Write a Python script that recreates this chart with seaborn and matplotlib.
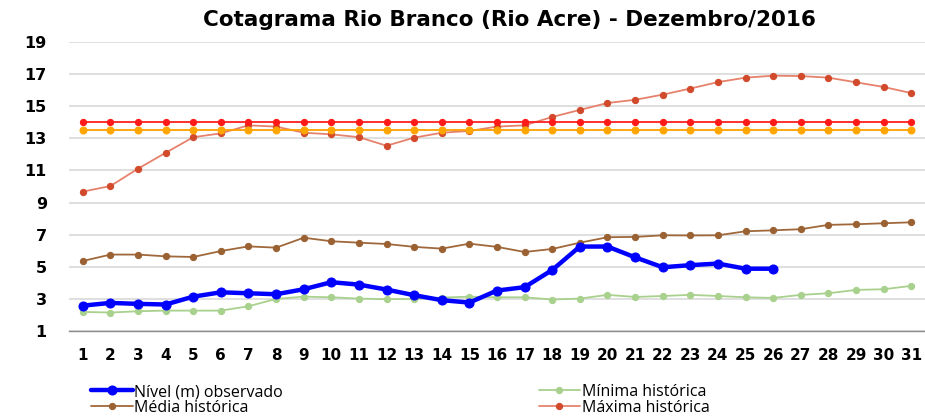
import numpy as np
import pandas as pd
import seaborn as sns
from matplotlib import pyplot as plt

days = list(range(1, 32))

observado = [2.58, 2.75, 2.69, 2.65, 3.14, 3.41, 3.35, 3.29, 3.60, 4.04,
             3.89, 3.58, 3.23, 2.92, 2.77, 3.52, 3.73, 4.80, 6.26, 6.26,
             5.59, 4.97, 5.10, 5.20, 4.88, 4.88]
minima = [2.19, 2.15, 2.23, 2.27, 2.27, 2.27, 2.54, 3.00, 3.14, 3.10,
          3.02, 2.98, 3.00, 3.08, 3.14, 3.10, 3.10, 2.96, 3.02, 3.25,
          3.12, 3.18, 3.25, 3.18, 3.10, 3.06, 3.25, 3.35, 3.56, 3.60, 3.81]
media = [5.36, 5.76, 5.76, 5.65, 5.61, 5.98, 6.27, 6.19, 6.81, 6.59,
         6.50, 6.42, 6.24, 6.13, 6.44, 6.24, 5.92, 6.11, 6.50, 6.84,
         6.86, 6.96, 6.95, 6.96, 7.21, 7.27, 7.34, 7.61, 7.65, 7.71, 7.77]
maxima = [9.68, 10.03, 11.11, 12.10, 13.07, 13.31, 13.81, 13.73, 13.35, 13.25,
          13.07, 12.54, 13.04, 13.35, 13.46, 13.73, 13.81, 14.33, 14.77, 15.20,
          15.40, 15.72, 16.10, 16.50, 16.78, 16.90, 16.88, 16.78, 16.49, 16.20, 15.82]
cota_transbordo = [14.0] * 31
cota_alerta = [13.5] * 31
yticks = list(range(1, 20, 2))

title = "Cotagrama Rio Branco (Rio Acre) - Dezembro/2016"

sns.set_theme(style="white")
plt.rcParams['font.family'] = ['DejaVu Sans']
plt.rcParams['text.color'] = 'black'
plt.rcParams['xtick.color'] = 'black'
plt.rcParams['ytick.color'] = 'black'

fig = plt.figure(figsize=(9.25, 4.18), dpi=100)
ax = fig.add_axes([69 / 925, 1 - 331 / 418, 1 - 69 / 925, (331 - 42) / 418])

ax.yaxis.grid(True, color="#d9d9d9", linewidth=1.2)
ax.set_axisbelow(True)

def draw(values, label, color, mcolor, lw, ms, z=2):
    df = pd.DataFrame({"dia": days[:len(values)], "valor": values})
    sns.lineplot(data=df, x="dia", y="valor", ax=ax, color=color, lw=lw,
                 marker="o", markersize=ms, markerfacecolor=mcolor,
                 markeredgecolor=mcolor, label=label, zorder=z)

draw(observado, "Nível (m) observado", "#0000ff", "#0000ff", 3.2, 6.5, z=6)
draw(media, "Média histórica", "#a0683a", "#9a6233", 1.3, 4.5, z=3)
draw(minima, "Mínima histórica", "#a9d18e", "#a9d18e", 1.3, 4.5, z=4)
draw(maxima, "Máxima histórica", "#e6826c", "#d24a2c", 1.3, 4.5, z=3)
draw(cota_transbordo, "_transbordo", "#ff2020", "#ff1a1a", 1.3, 4.5, z=5)
draw(cota_alerta, "_alerta", "#ffa000", "#ffa500", 1.3, 5, z=5)

ax.set_xlim(0.5, 31.5)
ax.set_ylim(1, 19)
ax.set_yticks(yticks)
ax.set_xticks(days)
ax.set_xticks(np.arange(0.5, 32, 1), minor=True)
ax.tick_params(axis="x", which="major", length=0, pad=12, labelsize=11)
ax.tick_params(axis="x", which="minor", length=5, width=1, color="#8c8c8c", direction="out")
ax.tick_params(axis="y", length=0, pad=16, labelsize=11.5)
for lab in ax.get_xticklabels() + ax.get_yticklabels():
    lab.set_fontweight("bold")
ax.set_xlabel("")
ax.set_ylabel("")
for s in ["top", "right", "left"]:
    ax.spines[s].set_visible(False)
ax.spines["bottom"].set_color("#8c8c8c")
ax.spines["bottom"].set_linewidth(1)

fig.text(0.551, 0.952, title, ha="center", va="center", fontsize=15.5,
         fontweight="bold", family="DejaVu Sans")

handles, labels = ax.get_legend_handles_labels()
ax.get_legend().remove()
fig.legend(handles, labels, ncol=2, loc="lower left", bbox_to_anchor=(80 / 925, -0.022),
           frameon=False, handlelength=2.6, handletextpad=0.1,
           columnspacing=16, labelspacing=0.0, borderpad=0.2,
           prop={"family": "Open Sans", "size": 11.5})

fig.savefig("out.png", dpi=100)
